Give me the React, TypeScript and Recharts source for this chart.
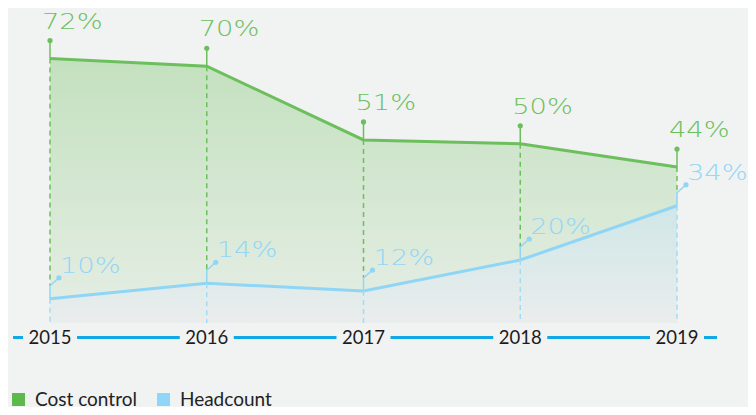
import React from "react";
import { AreaChart, Area, XAxis, YAxis, ReferenceLine, Legend } from "recharts";

const years = ["2015", "2016", "2017", "2018", "2019"];
const costControl = [72, 70, 51, 50, 44];
const headcount = [10, 14, 12, 20, 34];

const data = years.map((year, i) => ({ year, cost: costControl[i], head: headcount[i] }));

const GREEN = "#6cbf5c";
const BLUE = "#8fd5f6";
const AXIS_BLUE = "#11a8e6";
const BG = "#f1f2f2";
const Y_MIN = 3.75; // plot floor sits a little above the 0% axis line
const Y_MAX = 84;

// pixels per percent, taken from the points recharts already placed
function pxPerUnit(points: any[], key: string) {
  if (!points || points.length < 2) return 3.875;
  const a = points[0];
  const b = points[points.length - 1];
  const dv = b.payload[key] - a.payload[key];
  if (!dv) return 3.875;
  return (a.y - b.y) / dv;
}

const pctText = (x: number, y: number, value: number, color: string) => (
  <g transform={`translate(${x},${y}) scale(1.3,1)`}>
    <text x={0} y={0} fill={color} fontFamily="DejaVu Sans" fontWeight={200} fontSize={21}>
      {value}%
    </text>
  </g>
);

const CostMarker = (props: any) => {
  const { cx, cy, index, payload, points } = props;
  const ppu = pxPerUnit(points, "cost");
  const headY = cy + (payload.cost - payload.head) * ppu;
  const dotY = cy - 18;
  return (
    <g key={`cost-${index}`}>
      <line x1={cx} y1={cy} x2={cx} y2={headY - 13} stroke={GREEN} strokeWidth={1.5} strokeDasharray="5 4" />
      <line x1={cx} y1={cy} x2={cx} y2={dotY} stroke={GREEN} strokeWidth={1.5} />
      <circle cx={cx} cy={dotY} r={2.6} fill={GREEN} />
      {pctText(cx - 8, dotY - 12, payload.cost, GREEN)}
    </g>
  );
};

const HeadMarker = (props: any) => {
  const { cx, cy, index, payload, points } = props;
  const ppu = pxPerUnit(points, "head");
  const floorY = cy + (payload.head - Y_MIN) * ppu;
  const topY = cy - 13;
  const dotX = cx + 9;
  const dotY = topY - 8;
  return (
    <g key={`head-${index}`}>
      <line x1={cx} y1={cy} x2={cx} y2={floorY} stroke="#a3dbf5" strokeWidth={1.5} strokeDasharray="5 4" />
      <polyline points={`${cx},${cy} ${cx},${topY} ${dotX},${dotY}`} fill="none" stroke={BLUE} strokeWidth={1.5} />
      <circle cx={dotX} cy={dotY} r={2.6} fill={BLUE} />
      {pctText(dotX + 1, dotY - 5, payload.head, "#93d6f6")}
    </g>
  );
};

const YearTick = ({ x, y, payload }: any) => (
  <g>
    <rect x={x - 27} y={y + 8} width={54} height={14} fill={BG} />
    <text x={x} y={y + 21} textAnchor="middle" fill="#1c1c1c" fontFamily="Lato" fontSize={18.5}>
      {payload.value}
    </text>
  </g>
);

const LegendBox = ({ payload }: any) => (
  <div style={{ display: "flex", alignItems: "center", fontFamily: "Lato", fontSize: 19, lineHeight: "20px", color: "#222" }}>
    {(payload || []).map((p: any, i: number) => (
      <div key={i} style={{ display: "flex", alignItems: "center", marginLeft: i === 0 ? 12 : 20 }}>
        <span style={{ width: 13, height: 13, background: i === 0 ? "#5db94c" : "#8fd6f8", marginRight: 10 }} />
        <span>{p.value}</span>
      </div>
    ))}
  </div>
);

export default function App() {
  return (
    <div style={{ margin: -8, width: 756, height: 415, background: BG, overflow: "hidden" }}>
      <AreaChart width={756} height={415} data={data} margin={{ top: 12, right: 39, bottom: 0, left: 13 }}>
        <defs>
          <linearGradient id="costFill" x1="0" y1="0" x2="0" y2="1">
            <stop offset="0%" stopColor="#6abf5a" stopOpacity={0.34} />
            <stop offset="100%" stopColor="#6abf5a" stopOpacity={0.08} />
          </linearGradient>
          <linearGradient id="headFill" x1="0" y1="0" x2="0" y2="1">
            <stop offset="0%" stopColor="#cfe6ea" stopOpacity={0.85} />
            <stop offset="100%" stopColor="#eaeded" stopOpacity={0.9} />
          </linearGradient>
        </defs>
        <XAxis
          dataKey="year"
          height={92}
          axisLine={false}
          tickLine={false}
          tickSize={0}
          tickMargin={0}
          padding={{ left: 37, right: 40 }}
          tick={<YearTick />}
          interval={0}
        />
        <YAxis hide domain={[Y_MIN, Y_MAX]} allowDataOverflow />
        <ReferenceLine y={0} ifOverflow="visible" stroke={AXIS_BLUE} strokeWidth={3} />
        <Area
          type="linear"
          dataKey="cost"
          name="Cost control"
          stroke={GREEN}
          strokeWidth={3}
          fill="url(#costFill)"
          fillOpacity={1}
          dot={CostMarker}
          activeDot={false}
          isAnimationActive={false}
        />
        <Area
          type="linear"
          dataKey="head"
          name="Headcount"
          stroke={BLUE}
          strokeWidth={3}
          fill="url(#headFill)"
          fillOpacity={1}
          dot={HeadMarker}
          activeDot={false}
          isAnimationActive={false}
        />
        <Legend
          layout="horizontal"
          verticalAlign="middle"
          content={<LegendBox />}
          wrapperStyle={{ top: 389, left: 0, width: 400 }}
        />
      </AreaChart>
    </div>
  );
}
